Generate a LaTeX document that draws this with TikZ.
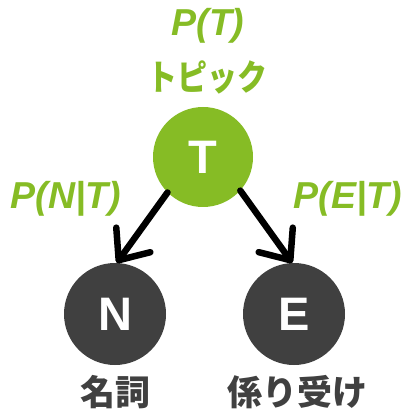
\documentclass[tikz,border=0pt]{standalone}
\usepackage{fontspec}
\setmainfont{Liberation Sans}
\newfontfamily\jpfont{Noto Sans CJK JP}
\usetikzlibrary{arrows.meta}
\definecolor{tgreen}{HTML}{86BC25}
\definecolor{dgray}{HTML}{404040}
\tikzset{
  bubble/.style={circle, inner sep=0pt, minimum size=100pt, text=white, font=\fontsize{47}{47}\selectfont\bfseries},
  prob/.style={text=tgreen, font=\fontsize{37.5}{37.5}\selectfont\bfseries\itshape, inner sep=0pt},
  jlabel/.style={font=\fontsize{35}{35}\selectfont\jpfont\bfseries, inner sep=0pt},
  link/.style={line width=6.5pt, line cap=round, -{Straight Barb[length=25pt, width=42pt, round, line width=6.5pt]}}
}
\begin{document}
\begin{tikzpicture}[x=1pt, y=-1pt]
\useasboundingbox (0,0) rectangle (404,411);
\node[bubble, fill=tgreen] (T) at (203,157) {T};
\node[bubble, fill=dgray, minimum size=102pt] (N) at (115,314) {N};
\node[bubble, fill=dgray, minimum size=102pt] (E) at (294,314) {E};
\node[prob] (pt) at (208,26) {P(T)};
\node[jlabel, text=tgreen, font=\fontsize{30}{30}\selectfont\jpfont\bfseries] (topic) at (207,77) {\scalebox{1}[1.18]{トピック}};
\node[prob] (pnt) at (66,199) {P(N|T)};
\node[prob] (pet) at (348,199) {P(E|T)};
\node[jlabel, text=dgray] (meishi) at (115,392) {名詞};
\node[jlabel, text=dgray] (kakari) at (297,392) {係り受け};
\draw[link] (T.225) -- (N.88);
\draw[link] (T.318) -- (E.92);
\end{tikzpicture}
\end{document}
